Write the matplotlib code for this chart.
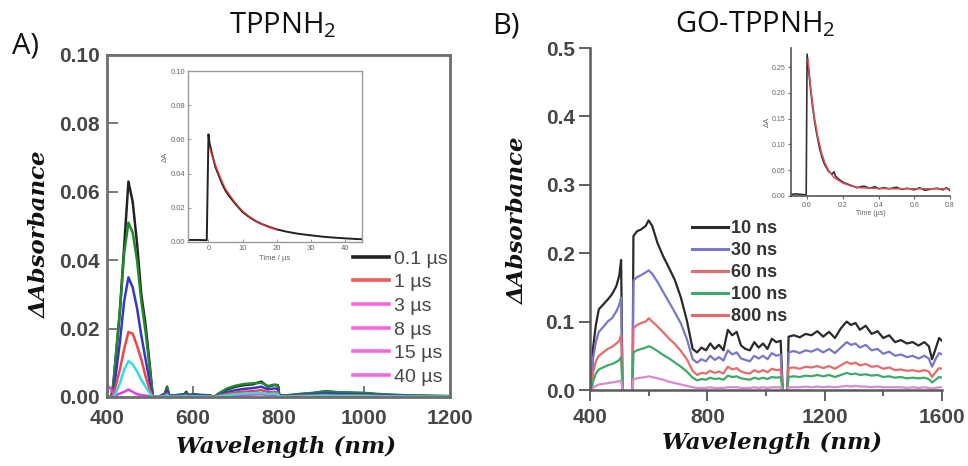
import numpy as np
import matplotlib
matplotlib.use('Agg')
import matplotlib.pyplot as plt
from matplotlib.lines import Line2D

nan = np.nan

# ---------------- Panel A : TPPNH2 ----------------
wl_A = [400, 410, 415, 420, 430, 440, 450, 460, 470, 480,
        490, 500, 507, 520, 535, 540, 545, 560, 580, 585,
        590, 600, 620, 640, 650, 660, 680, 700, 720, 740,
        760, 775, 790, 798, 802, 820, 850, 880, 910, 940,
        970, 1000, 1030, 1060, 1100, 1150, 1200]

dA_0p1us = [0.0, 0.0, 0.004, 0.011, 0.025, 0.044, 0.063, 0.057, 0.045, 0.030,
            0.021, 0.009, 0.0,
            0.0, 0.001, 0.003, 0.0005, 0.0005, 0.0008, 0.0015, 0.0005, 0.0008, 0.0006, 0.0005,
            0.0, 0.0008, 0.0022, 0.003, 0.0035, 0.0037, 0.0045, 0.003, 0.0035, 0.0035,
            0.0005, 0.0004, 0.0008, 0.0011, 0.0016, 0.0013, 0.0012, 0.0011, 0.0008, 0.0006,
            0.0004, 0.0003, 0.0002]
dA_1us = [0.0, 0.0, 0.004, 0.011, 0.025, 0.042, 0.051, 0.048, 0.040, 0.028,
          0.019, 0.008, 0.0,
          0.0, 0.001, 0.0028, 0.0005, 0.0005, 0.0007, 0.0012, 0.0005, 0.0007, 0.0005, 0.0004,
          0.0, 0.001, 0.0025, 0.0033, 0.0038, 0.004, 0.0042, 0.0032, 0.0036, 0.0033,
          0.0005, 0.0005, 0.0009, 0.0012, 0.0017, 0.0014, 0.0013, 0.0012, 0.0009, 0.0007,
          0.0005, 0.0004, 0.0003]
dA_3us = [0.0, 0.0, 0.002, 0.006, 0.016, 0.028, 0.035, 0.032, 0.026, 0.018,
          0.011, 0.004, 0.0,
          0.0, 0.0007, 0.002, 0.0004, 0.0004, 0.0005, 0.0009, 0.0004, 0.0005, 0.0004, 0.0003,
          0.0, 0.0006, 0.0014, 0.002, 0.0024, 0.0026, 0.003, 0.0022, 0.0025, 0.0024,
          0.0004, 0.0003, 0.0006, 0.0008, 0.001, 0.0009, 0.0008, 0.0008, 0.0006, 0.0005,
          0.0003, 0.0002, 0.0002]
dA_8us = [0.0, 0.0, 0.001, 0.003, 0.008, 0.014, 0.019, 0.0185, 0.015, 0.011,
          0.006, 0.002, 0.0,
          0.0, 0.0004, 0.001, 0.0002, 0.0002, 0.0003, 0.0005, 0.0002, 0.0003, 0.0002, 0.0002,
          0.0, 0.0004, 0.0009, 0.0013, 0.0016, 0.0017, 0.002, 0.0014, 0.0015, 0.0014,
          0.0002, 0.0002, 0.0004, 0.0005, 0.0006, 0.0005, 0.0005, 0.0005, 0.0004, 0.0003,
          0.0002, 0.0001, 0.0001]
dA_15us = [0.0, 0.0, 0.0, 0.001, 0.004, 0.008, 0.0105, 0.0095, 0.0075, 0.005,
           0.003, 0.001, 0.0,
           0.0, 0.0002, 0.0006, 0.0001, 0.0001, 0.0002, 0.0003, 0.0001, 0.0002, 0.0001, 0.0001,
           0.0, 0.0002, 0.0005, 0.0008, 0.001, 0.0011, 0.0012, 0.0009, 0.001, 0.0009,
           0.0001, 0.0001, 0.0002, 0.0003, 0.0004, 0.0003, 0.0003, 0.0003, 0.0002, 0.0002,
           0.0001, 0.0001, 0.0001]
dA_40us = [0.0035, 0.0022, 0.0008, 0.0005, 0.001, 0.0015, 0.0022, 0.0015, 0.0008, 0.0006,
           0.0004, 0.0002, 0.0,
           0.0, 0.0001, 0.0003, 0.0001, 0.0, 0.0001, 0.0002, 0.0, 0.0001, 0.0001, 0.0,
           0.0, 0.0001, 0.0003, 0.0005, 0.0006, 0.0007, 0.0008, 0.0006, 0.0006, 0.0006,
           0.0001, 0.0, 0.0001, 0.0002, 0.0002, 0.0002, 0.0002, 0.0002, 0.0001, 0.0001,
           0.0001, 0.0, 0.0]

labels_A = ['0.1 µs', '1 µs', '3 µs', '8 µs', '15 µs', '40 µs']

# inset A kinetics
t_A = [-5.5, -3, -0.5, 0, 0.3, 1, 2, 3, 4, 5, 6, 8, 10, 12, 14, 16, 18, 20,
       23, 26, 30, 34, 38, 42, 45]
kin_A = [0.0012, 0.0012, 0.001, 0.063, 0.058, 0.052, 0.044, 0.039, 0.034, 0.030,
         0.027, 0.022, 0.0175, 0.0145, 0.012, 0.0102, 0.0087, 0.0074, 0.006, 0.0049,
         0.0039, 0.003, 0.0024, 0.0019, 0.0016]
t_fitA = [0.4, 1, 2, 3, 4, 5, 6, 8, 10, 12, 14, 16, 18, 20]
fit_A = [0.055, 0.051, 0.045, 0.040, 0.035, 0.031, 0.028, 0.0225, 0.018, 0.0148,
         0.0122, 0.0101, 0.0085, 0.0072]

# ---------------- Panel B : GO-TPPNH2 ----------------
wl_B = [406, 410, 420, 430, 445, 460, 475, 490, 500, 506, 511, nan,
        545, 548, 560, 575, 590, 600, 612, 630, 650, 670, 690, 710, 730, 750,
        765, 780, 795, 810, 825, 840, 855, 870, 885, 900, 915, 930, 945, 960,
        975, 990, 1005, 1020, 1035, 1050, 1057, nan,
        1073, 1077, 1095, 1115, 1135, 1155, 1175, 1195, 1215, 1235, 1255, 1275,
        1290, 1305, 1320, 1340, 1360, 1380, 1400, 1420, 1440, 1460, 1480, 1500,
        1520, 1540, 1555, 1566, 1578, 1590, 1600]

dA_10ns = [0.0, 0.06, 0.095, 0.118, 0.125, 0.132, 0.14, 0.152, 0.168, 0.19, 0.0, nan,
           0.0, 0.225, 0.232, 0.235, 0.24, 0.248, 0.24, 0.215, 0.195, 0.178, 0.16, 0.135,
           0.102, 0.06, 0.055, 0.062, 0.058, 0.068, 0.06, 0.066, 0.058, 0.088, 0.08, 0.085,
           0.065, 0.06, 0.058, 0.07, 0.062, 0.068, 0.06, 0.075, 0.07, 0.072, 0.0, nan,
           0.0, 0.078, 0.08, 0.077, 0.082, 0.08, 0.086, 0.078, 0.085, 0.076, 0.09, 0.1,
           0.095, 0.098, 0.088, 0.094, 0.082, 0.086, 0.076, 0.08, 0.07, 0.073, 0.068, 0.07,
           0.065, 0.07, 0.064, 0.045, 0.06, 0.076, 0.072]
dA_30ns = [0.0, 0.045, 0.07, 0.085, 0.092, 0.1, 0.105, 0.115, 0.125, 0.135, 0.0, nan,
           0.0, 0.16, 0.165, 0.168, 0.172, 0.175, 0.17, 0.158, 0.143, 0.128, 0.113, 0.097,
           0.075, 0.045, 0.04, 0.045, 0.042, 0.05, 0.044, 0.048, 0.043, 0.058, 0.052, 0.055,
           0.046, 0.044, 0.042, 0.05, 0.046, 0.05, 0.045, 0.054, 0.05, 0.052, 0.0, nan,
           0.0, 0.055, 0.057, 0.054, 0.058, 0.056, 0.06, 0.055, 0.06, 0.054, 0.062, 0.07,
           0.066, 0.068, 0.062, 0.066, 0.058, 0.06, 0.053, 0.056, 0.05, 0.052, 0.048, 0.05,
           0.046, 0.05, 0.046, 0.034, 0.045, 0.054, 0.052]
dA_60ns = [0.0, 0.025, 0.042, 0.05, 0.055, 0.06, 0.063, 0.068, 0.072, 0.08, 0.0, nan,
           0.0, 0.09, 0.095, 0.098, 0.1, 0.105, 0.1, 0.093, 0.084, 0.075, 0.067, 0.057,
           0.045, 0.028, 0.022, 0.025, 0.024, 0.028, 0.025, 0.027, 0.024, 0.034, 0.03, 0.032,
           0.027, 0.025, 0.024, 0.029, 0.026, 0.029, 0.026, 0.031, 0.029, 0.03, 0.0, nan,
           0.0, 0.032, 0.033, 0.031, 0.034, 0.033, 0.035, 0.032, 0.035, 0.031, 0.036, 0.041,
           0.038, 0.04, 0.036, 0.038, 0.034, 0.035, 0.031, 0.033, 0.029, 0.03, 0.028, 0.029,
           0.027, 0.029, 0.027, 0.019, 0.026, 0.032, 0.031]
dA_100ns = [0.0, 0.012, 0.024, 0.03, 0.033, 0.036, 0.038, 0.041, 0.044, 0.048, 0.0, nan,
            0.0, 0.055, 0.058, 0.06, 0.062, 0.064, 0.062, 0.057, 0.051, 0.046, 0.04, 0.034,
            0.027, 0.018, 0.014, 0.016, 0.015, 0.018, 0.016, 0.017, 0.015, 0.021, 0.019, 0.02,
            0.017, 0.016, 0.015, 0.018, 0.016, 0.018, 0.016, 0.019, 0.018, 0.019, 0.0, nan,
            0.0, 0.019, 0.02, 0.019, 0.021, 0.02, 0.022, 0.02, 0.022, 0.019, 0.022, 0.025,
            0.023, 0.024, 0.022, 0.023, 0.021, 0.022, 0.019, 0.02, 0.018, 0.019, 0.017, 0.018,
            0.017, 0.018, 0.016, 0.011, 0.015, 0.019, 0.018]
dA_800ns = [0.0, 0.003, 0.006, 0.008, 0.009, 0.01, 0.011, 0.012, 0.013, 0.014, 0.0, nan,
            0.0, 0.016, 0.017, 0.018, 0.019, 0.02, 0.019, 0.017, 0.015, 0.012, 0.01, 0.008,
            0.006, 0.004, 0.003, 0.003, 0.003, 0.004, 0.003, 0.003, 0.003, 0.004, 0.004, 0.004,
            0.003, 0.003, 0.003, 0.004, 0.003, 0.004, 0.003, 0.004, 0.004, 0.004, 0.0, nan,
            0.0, 0.004, 0.004, 0.004, 0.005, 0.004, 0.005, 0.004, 0.005, 0.004, 0.005, 0.006,
            0.005, 0.006, 0.005, 0.005, 0.004, 0.005, 0.004, 0.004, 0.004, 0.004, 0.003, 0.004,
            0.003, 0.004, 0.003, 0.002, 0.003, 0.004, 0.004]

labels_B = ['10 ns', '30 ns', '60 ns', '100 ns', '800 ns']

t_B = [-0.09, -0.06, -0.03, -0.005, 0.0, 0.01, 0.02, 0.03, 0.04, 0.05, 0.06, 0.07,
       0.08, 0.09, 0.1, 0.12, 0.14, 0.15, 0.16, 0.18, 0.2, 0.22, 0.25, 0.28, 0.3,
       0.32, 0.35, 0.38, 0.4, 0.43, 0.46, 0.5, 0.53, 0.56, 0.6, 0.63, 0.66, 0.7,
       0.73, 0.76, 0.78, 0.8]
kin_B = [0.003, 0.004, 0.003, 0.002, 0.275, 0.24, 0.205, 0.175, 0.15, 0.128, 0.11,
         0.092, 0.08, 0.068, 0.06, 0.048, 0.042, 0.047, 0.038, 0.032, 0.027, 0.024,
         0.02, 0.016, 0.018, 0.019, 0.015, 0.018, 0.014, 0.016, 0.014, 0.017, 0.013,
         0.015, 0.012, 0.016, 0.011, 0.014, 0.015, 0.012, 0.016, 0.011]
t_fitB = [0.005, 0.02, 0.04, 0.06, 0.08, 0.1, 0.12, 0.15, 0.2, 0.25, 0.3, 0.4, 0.5,
          0.6, 0.7, 0.8]
fit_B = [0.265, 0.21, 0.155, 0.115, 0.085, 0.064, 0.05, 0.036, 0.025, 0.019, 0.016,
         0.0145, 0.014, 0.014, 0.014, 0.014]

# ---------------- styling ----------------
plt.rcParams['font.family'] = ['Liberation Sans', 'DejaVu Sans']
plt.rcParams['mathtext.fontset'] = 'custom'
plt.rcParams['mathtext.rm'] = 'Open Sans'

W, H = 968, 466
fig = plt.figure(figsize=(W / 100, H / 100), dpi=100)

def box(x0, y0, x1, y1):
    return [x0 / W, 1 - y1 / H, (x1 - x0) / W, (y1 - y0) / H]

tick_col = '#474747'
tick_font = dict(family='Liberation Sans', weight='bold', size=15)
label_font = dict(family='DejaVu Serif', weight='bold', style='italic', size=16.5, color='#111111')

def style_ticklabels(ax):
    for lab in ax.get_xticklabels() + ax.get_yticklabels():
        lab.set_fontproperties(tick_font)
        lab.set_color(tick_col)

# ---- Panel A main ----
axA = fig.add_axes(box(107, 55, 450, 397))
cols_A = ['#222222', '#1f8a2a', '#3535d5', '#f04545', '#e040e0', '#30dede']
series_A = [dA_0p1us, dA_1us, dA_3us, dA_8us, dA_40us, dA_15us]
for ys, c in zip(series_A, cols_A):
    axA.plot(wl_A, ys, color=c, lw=1.8)
axA.set_xlim(400, 1200)
axA.set_ylim(0, 0.10)
axA.set_xticks([400, 600, 800, 1000, 1200])
axA.set_yticks([0.0, 0.02, 0.04, 0.06, 0.08, 0.10])
axA.set_yticklabels(['0.00', '0.02', '0.04', '0.06', '0.08', '0.10'])
axA.tick_params(direction='in', length=8, width=1.1, color='#555555')
axA.tick_params(axis='x', pad=9)
axA.tick_params(axis='y', pad=5)
style_ticklabels(axA)
for s in axA.spines.values():
    s.set_color('#6e6e6e')
    s.set_linewidth(2.0)

leg_cols_A = ['#222222', '#f25a5a', '#ff66dd', '#ff66dd', '#ff66dd', '#ff66dd']
handles_A = [Line2D([0], [0], color=c, lw=2.6) for c in leg_cols_A]
fig.legend(handles_A, labels_A, loc='upper left', bbox_to_anchor=(353 / W, 1 - 250 / H),
           frameon=False, fontsize=14, handlelength=1.85, handletextpad=0.25,
           labelspacing=0.31, borderpad=0, borderaxespad=0, labelcolor=tick_col)

# ---- Panel A inset ----
axAi = fig.add_axes(box(188, 71, 362, 242))
axAi.plot(t_A, kin_A, color='#222222', lw=1.4)
axAi.plot(t_fitA, fit_A, color='#e03030', lw=1.0)
axAi.set_xlim(-6, 45)
axAi.set_ylim(0, 0.10)
axAi.set_xticks([0, 10, 20, 30, 40])
axAi.set_yticks([0.0, 0.02, 0.04, 0.06, 0.08, 0.10])
axAi.set_yticklabels(['0.00', '0.02', '0.04', '0.06', '0.08', '0.10'])
axAi.tick_params(direction='in', length=2, width=0.6, color='#888888', labelsize=5.5,
                 labelcolor='#666666', pad=2)
for s in axAi.spines.values():
    s.set_color('#999999')
    s.set_linewidth(1.0)
axAi.set_xlabel('Time / µs', fontsize=5.5, color='#666666', labelpad=2)
axAi.set_ylabel('ΔA', fontsize=5.5, color='#666666', labelpad=1)

# ---- Panel B main ----
axB = fig.add_axes(box(590, 48, 942, 390))
cols_B = ['#2a2a2a', '#7777cc', '#e86a6a', '#3daa6a', '#d889d0']
series_B = [dA_10ns, dA_30ns, dA_60ns, dA_100ns, dA_800ns]
for ys, c in zip(series_B, cols_B):
    axB.plot(wl_B, ys, color=c, lw=1.6)
axB.set_xlim(400, 1600)
axB.set_ylim(0, 0.5)
axB.set_xticks([400, 800, 1200, 1600])
axB.set_xticks([600, 1000, 1400], minor=True)
axB.set_yticks([0.0, 0.1, 0.2, 0.3, 0.4, 0.5])
axB.set_yticklabels(['0.0', '0.1', '0.2', '0.3', '0.4', '0.5'])
axB.tick_params(which='major', direction='out', length=8, width=1.3, color='#555555')
axB.tick_params(which='minor', direction='out', length=4.5, width=1.3, color='#555555')
axB.tick_params(axis='x', pad=5)
axB.tick_params(axis='y', pad=3)
style_ticklabels(axB)
for k in ['top', 'right']:
    axB.spines[k].set_visible(False)
for k in ['left', 'bottom']:
    axB.spines[k].set_color('#5a5a5a')
    axB.spines[k].set_linewidth(1.8)

leg_cols_B = ['#2a2a2a', '#7777cc', '#e86a6a', '#3daa6a', '#e86a6a']
handles_B = [Line2D([0], [0], color=c, lw=2.2) for c in leg_cols_B]
fig.legend(handles_B, labels_B, loc='upper left', bbox_to_anchor=(692 / W, 1 - 220 / H),
           frameon=False, prop=dict(family='Liberation Sans', weight='bold', size=13),
           handlelength=2.0, handletextpad=0.15, labelspacing=0.28, borderpad=0,
           borderaxespad=0, labelcolor='#333333')

# ---- Panel B inset ----
axBi = fig.add_axes(box(791, 48, 950, 196))
axBi.plot(t_B, kin_B, color='#333333', lw=1.2)
axBi.plot(t_fitB, fit_B, color='#e05050', lw=1.1)
axBi.set_xlim(-0.09, 0.8)
axBi.set_ylim(0, 0.287)
axBi.set_xticks([0.0, 0.2, 0.4, 0.6, 0.8])
axBi.set_xticklabels(['0.0', '0.2', '0.4', '0.6', '0.8'])
axBi.set_yticks([0.0, 0.05, 0.10, 0.15, 0.20, 0.25])
axBi.set_yticklabels(['0.00', '0.05', '0.10', '0.15', '0.20', '0.25'])
axBi.tick_params(direction='out', length=2, width=0.8, color='#666666', labelsize=5,
                 labelcolor='#666666', pad=2)
for k in ['top', 'right']:
    axBi.spines[k].set_visible(False)
for k in ['left', 'bottom']:
    axBi.spines[k].set_color('#555555')
    axBi.spines[k].set_linewidth(1.2)
axBi.set_xlabel('Time (µs)', fontsize=5, color='#666666', labelpad=1)
axBi.set_ylabel('ΔA', fontsize=5.5, color='#666666', labelpad=1)

# ---- labels & titles ----
fig.text(40 / W, 1 - 234 / H, 'ΔAbsorbance', rotation=90, ha='center', va='center', **label_font)
fig.text(286 / W, 1 - 447 / H, 'Wavelength (nm)', ha='center', va='center', **label_font)
fig.text(518 / W, 1 - 220 / H, 'ΔAbsorbance', rotation=90, ha='center', va='center', **label_font)
fig.text(772 / W, 1 - 443 / H, 'Wavelength (nm)', ha='center', va='center', **label_font)

title_font = dict(family='Open Sans', size=21, color='#111111')
fig.text(283 / W, 1 - 33 / H, r'TPPNH$_\mathrm{2}$', ha='center', va='baseline', **title_font)
fig.text(755 / W, 1 - 32 / H, r'GO-TPPNH$_\mathrm{2}$', ha='center', va='baseline', **title_font)
fig.text(12 / W, 1 - 53 / H, 'A)', ha='left', va='baseline', **title_font)
fig.text(492 / W, 1 - 33 / H, 'B)', ha='left', va='baseline', **title_font)

fig.savefig('out.png', dpi=100)
